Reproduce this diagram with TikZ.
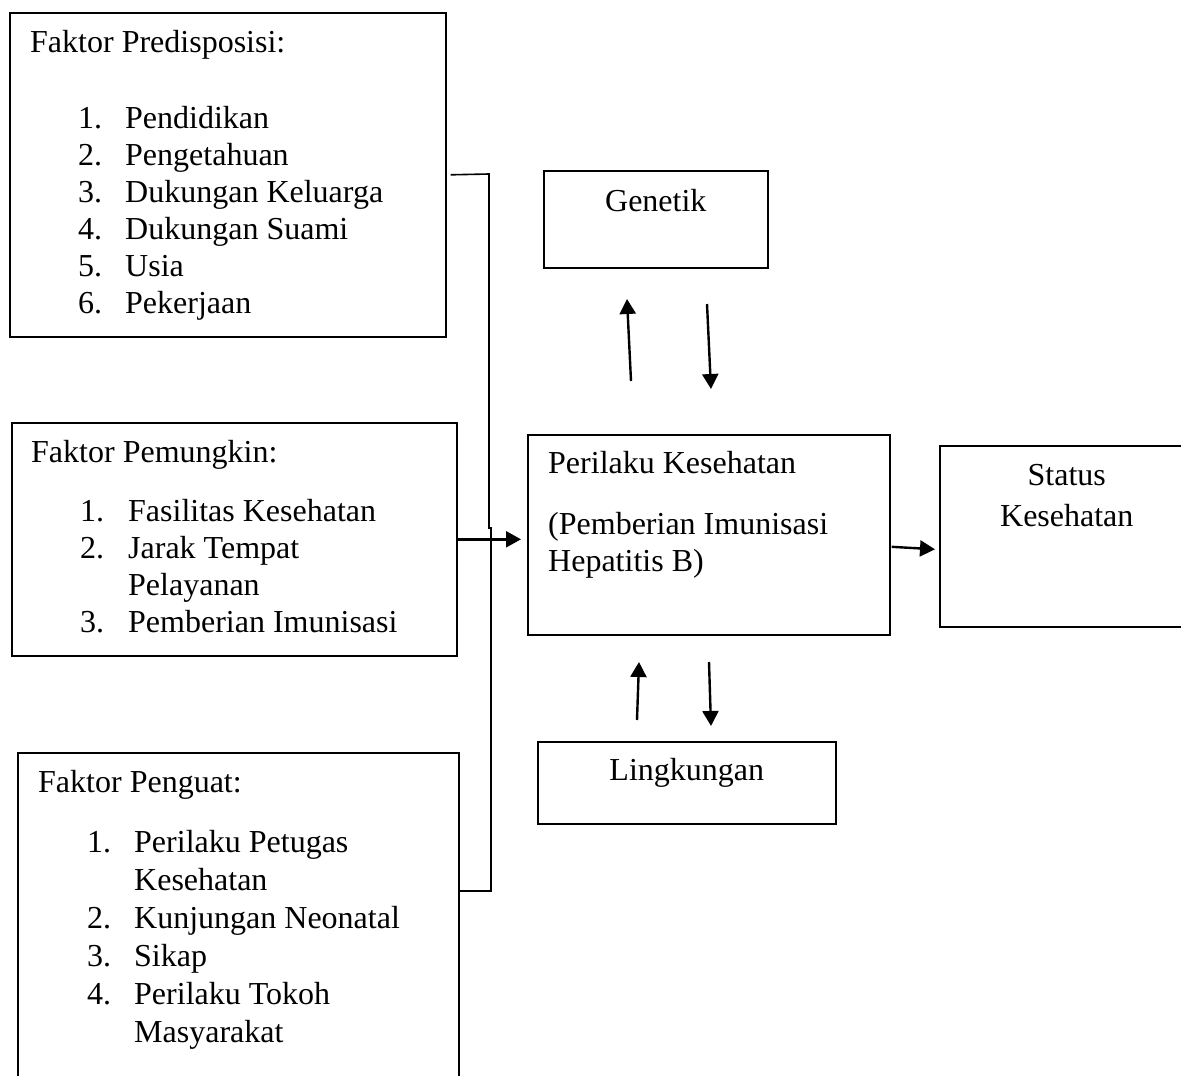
\documentclass[tikz,border=0pt]{standalone}
\usepackage{fontspec}
\setmainfont{Liberation Serif}
\usepackage{tikz}
\usetikzlibrary{calc,arrows.meta}
\tikzset{
  box/.style={draw=black, line width=1.6pt, anchor=north west, inner sep=0pt},
  link/.style={draw=black, line width=1.6pt},
  arr/.style={draw=black, line width=2.4pt, -{Triangle[length=15pt,width=16pt]}},
  lab/.style={text=black, font=\fontsize{32}{37}\selectfont, inner sep=0pt, anchor=base west},
  labc/.style={lab, anchor=base},
}

\begin{document}
\begin{tikzpicture}[x=1pt, y=-1pt]
  \useasboundingbox (0,0) rectangle (1181,1076);
  \clip (0,0) rectangle (1181,1076);

  % boxes
  \node[box, minimum width=436pt, minimum height=324pt] (pre) at (9,12) {};
  \node[box, minimum width=445pt, minimum height=233pt] (pem) at (11,422) {};
  \node[box, minimum width=441pt, minimum height=340pt] (pen) at (17,752) {};
  \node[box, minimum width=224pt, minimum height=97pt] (gen) at (543,170) {};
  \node[box, minimum width=362pt, minimum height=200pt] (per) at (527,434) {};
  \node[box, minimum width=254pt, minimum height=181pt] (sta) at (939,445) {};
  \node[box, minimum width=298pt, minimum height=82pt] (lin) at (537,741) {};

  % predisposisi
  \node[lab] (pre-h) at ($(pre.north west)+(21,40)$) {Faktor Predisposisi:};
  \foreach \i/\n/\t in {0/1./Pendidikan, 1/2./Pengetahuan, 2/3./Dukungan Keluarga,
                        3/4./Dukungan Suami, 4/5./Usia, 5/6./Pekerjaan} {
    \node[lab] (pre-n\i) at ($(pre.north west)+(69,116+37*\i)$) {\n};
    \node[lab] (pre-t\i) at ($(pre.north west)+(116,116+37*\i)$) {\t};
  }

  % pemungkin
  \node[lab] (pem-h) at ($(pem.north west)+(20,40)$) {Faktor Pemungkin:};
  \foreach \i/\n/\t in {0/1./Fasilitas Kesehatan, 1/2./Jarak Tempat, 2//Pelayanan,
                        3/3./Pemberian Imunisasi} {
    \node[lab] (pem-n\i) at ($(pem.north west)+(69,99+37*\i)$) {\n};
    \node[lab] (pem-t\i) at ($(pem.north west)+(117,99+37*\i)$) {\t};
  }

  % penguat
  \node[lab] (pen-h) at ($(pen.north west)+(21,40)$) {Faktor Penguat:};
  \foreach \i/\n/\t in {0/1./Perilaku Petugas, 1//Kesehatan, 2/2./Kunjungan Neonatal,
                        3/3./Sikap, 4/4./Perilaku Tokoh, 5//Masyarakat} {
    \node[lab] (pen-n\i) at ($(pen.north west)+(70,100+38*\i)$) {\n};
    \node[lab] (pen-t\i) at ($(pen.north west)+(117,100+38*\i)$) {\t};
  }

  % middle + right
  \node[labc] (gen-t) at ($(gen.north)+(0,41)$) {Genetik};
  \node[lab] (per-t1) at ($(per.north west)+(21,39)$) {Perilaku Kesehatan};
  \node[lab] (per-t2) at ($(per.north west)+(21,100)$) {(Pemberian Imunisasi};
  \node[lab] (per-t3) at ($(per.north west)+(21,137)$) {Hepatitis B)};
  \node[labc] (sta-t1) at ($(sta.north)+(0,40)$) {Status};
  \node[labc] (sta-t2) at ($(sta.north)+(0,81)$) {Kesehatan};
  \node[labc] (lin-t) at ($(lin.north)+(0,39)$) {Lingkungan};

  % bracket joining the three factors
  \coordinate (bus-top) at (489,174);
  \coordinate (bus-mid) at (489,528);
  \coordinate (bus-bot) at (491,891);
  \draw[link] ($(pre.east)+(4,0)$) -- (bus-top) -- (bus-mid) -- ++(2,0) -- (bus-bot)
    -- ($(pen.north east)+(-1,139)$);

  % arrows
  \draw[arr, shorten >=6pt] (pem.east) -- (pem.east -| per.west);
  \draw[arr] ($(per.east)+(1,12)$) -- ($(sta.west)+(-4,13)$);

  \coordinate (gu-a) at (631,381);
  \coordinate (gu-b) at (627,299);
  \coordinate (gd-a) at (707,304);
  \coordinate (gd-b) at (711,389);
  \draw[arr] (gu-a) -- (gu-b);
  \draw[arr] (gd-a) -- (gd-b);

  \coordinate (lu-a) at (637,720);
  \coordinate (lu-b) at (639,662);
  \coordinate (ld-a) at (709,662);
  \coordinate (ld-b) at (711,726);
  \draw[arr] (lu-a) -- (lu-b);
  \draw[arr] (ld-a) -- (ld-b);
\end{tikzpicture}
\end{document}
